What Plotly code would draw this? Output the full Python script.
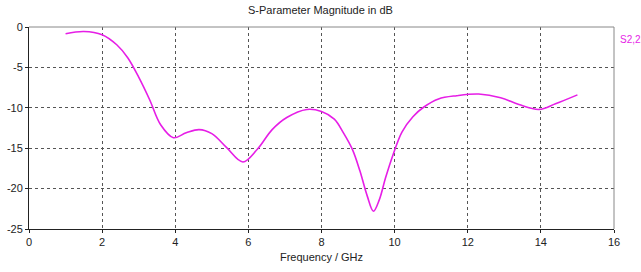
import plotly.graph_objects as go

freq = [1.0, 1.5, 2.0, 2.4, 2.7, 3.0, 3.3, 3.6, 3.95, 4.3, 4.65, 5.0, 5.4, 5.85, 6.25, 6.65,
        7.05, 7.6, 8.0, 8.35, 8.6, 8.85, 9.05, 9.25, 9.42, 9.58, 9.75, 9.95, 10.2, 10.5, 10.8,
        11.2, 11.7, 12.3, 12.9, 13.4, 13.95, 14.4, 15.0]
s22 = [-0.83, -0.55, -0.95, -2.2, -3.8, -6.2, -9.0, -12.1, -13.7, -13.1, -12.7, -13.2, -14.9, -16.7,
       -15.1, -12.7, -11.2, -10.2, -10.45, -11.4, -13.1, -15.2, -17.8, -20.9, -22.8, -21.4, -18.7,
       -15.9, -13.0, -11.1, -9.9, -8.9, -8.5, -8.3, -8.75, -9.6, -10.2, -9.5, -8.4]
x_ticks = [0, 2, 4, 6, 8, 10, 12, 14, 16]
y_ticks = [0, -5, -10, -15, -20, -25]

FONT = "Liberation Sans Narrow, Liberation Sans, Arial Narrow, sans-serif"
MAG = "rgb(230,30,230)"

fig = go.Figure()
fig.add_trace(go.Scatter(x=freq, y=s22, mode="lines",
                         line=dict(color=MAG, width=1.6, shape="spline", smoothing=1.0),
                         name="S2,2", showlegend=False))

fig.update_layout(
    width=641, height=272,
    margin=dict(l=29, r=27, t=27, b=43, autoexpand=False),
    paper_bgcolor="white", plot_bgcolor="white",
    font=dict(family=FONT, size=11, color="#222"),
    title=dict(text="S-Parameter Magnitude in dB", x=0.5, xanchor="center", y=1, yref="container",
               yanchor="top", pad=dict(t=6), font=dict(family=FONT, size=11, color="#222"),
               automargin=False),
    xaxis=dict(range=[0, 16], tickvals=x_ticks, ticktext=[str(v) for v in x_ticks],
               showgrid=True, gridcolor="#555", griddash="dot", gridwidth=1,
               showline=True, linecolor="#222", linewidth=1, mirror=False,
               zeroline=False, ticks="outside", ticklen=3, tickcolor="#222", automargin=False,
               title=dict(text="Frequency / GHz", standoff=6, font=dict(family=FONT, size=11))),
    yaxis=dict(range=[-25, 0], tickvals=y_ticks, ticktext=[str(v) for v in y_ticks],
               showgrid=True, gridcolor="#555", griddash="dot", gridwidth=1,
               showline=True, linecolor="#222", linewidth=1, zeroline=False, automargin=False,
               ticks="outside", ticklen=3, tickcolor="#222"),
    shapes=[
        dict(type="line", xref="paper", yref="paper", x0=0, x1=1, y0=1, y1=1, line=dict(color="#888", width=1)),
        dict(type="line", xref="paper", yref="paper", x0=1, x1=1, y0=0, y1=1, line=dict(color="#888", width=1)),
    ],
    annotations=[dict(text="S2,2", xref="paper", yref="paper", x=1.006, y=0.94, xanchor="left", yanchor="middle",
                      showarrow=False, font=dict(family=FONT, size=10, color=MAG))],
)

fig.write_html("out.html", config={"displayModeBar": False},
               post_script="document.body.style.margin='0';document.body.style.overflow='hidden';")
